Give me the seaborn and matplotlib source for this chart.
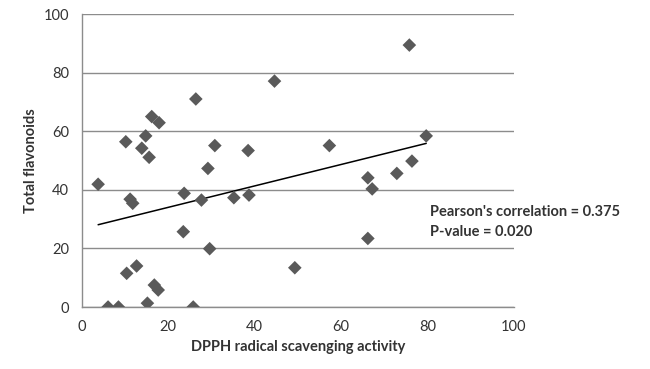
import matplotlib
matplotlib.use("Agg")
import matplotlib.pyplot as plt
import numpy as np
import pandas as pd
import seaborn as sns

# DPPH radical scavenging activity vs total flavonoids
dpph = [3.8, 26.4, 16.2, 17.9, 14.8, 10.2, 13.9, 15.6, 30.8, 38.5,
        29.2, 11.2, 11.8, 23.7, 27.7, 35.2, 38.7, 23.5, 29.6, 12.7,
        10.4, 16.8, 17.7, 15.2, 6.1, 8.5, 25.8, 75.8, 44.6, 57.3,
        79.7, 76.4, 66.2, 72.9, 67.2, 66.2, 49.3]
flavonoids = [41.9, 71.0, 65.0, 62.9, 58.4, 56.4, 54.2, 51.1, 55.1, 53.4,
              47.3, 36.8, 35.4, 38.8, 36.5, 37.3, 38.2, 25.7, 19.9, 14.0,
              11.5, 7.5, 5.8, 1.3, 0.0, 0.0, 0.0, 89.4, 77.1, 55.1,
              58.4, 49.8, 44.1, 45.6, 40.3, 23.4, 13.4]
x_ticks = [0, 20, 40, 60, 80, 100]
y_ticks = [0, 20, 40, 60, 80, 100]
stats_text = "Pearson's correlation = 0.375\nP-value = 0.020"

df = pd.DataFrame({"dpph": dpph, "flav": flavonoids})

sns.set_style("white")
plt.rcParams["font.family"] = ["Lato", "DejaVu Sans"]

fig = plt.figure(figsize=(6.5, 3.69), dpi=100)
ax = fig.add_axes([0.1257, 0.168, 0.665, 0.794])

sns.scatterplot(data=df, x="dpph", y="flav", marker="D", s=48,
                color="#5a5a5a", edgecolor="none", ax=ax, zorder=3)

# linear trend line over the data range
slope, intercept = np.polyfit(df["dpph"], df["flav"], 1)
xs = np.array([df["dpph"].min(), df["dpph"].max()])
ax.plot(xs, slope * xs + intercept, color="black", lw=1.1, zorder=2)

ax.set_xlim(0, 100)
ax.set_ylim(0, 100)
ax.set_xticks(x_ticks)
ax.set_yticks(y_ticks)
ax.yaxis.grid(True, color="#8c8c8c", lw=1)
ax.set_axisbelow(True)
for side in ["top", "right"]:
    ax.spines[side].set_visible(False)
for side in ["left", "bottom"]:
    ax.spines[side].set_color("#8c8c8c")
    ax.spines[side].set_linewidth(1)
ax.tick_params(axis="both", direction="out", length=5, width=1,
               color="#8c8c8c", labelsize=10.5, labelcolor="#333333", pad=4)

ax.set_xlabel("DPPH radical scavenging activity", fontsize=10.5,
              fontweight="bold", color="#333333", labelpad=5)
ax.set_ylabel("Total flavonoids", fontsize=10.5, fontweight="bold",
              color="#333333", labelpad=4)

ax.text(0.806, 0.29, stats_text, transform=ax.transAxes, fontsize=10.5,
        fontweight="bold", color="#333333", va="center", ha="left",
        linespacing=1.6, clip_on=False)

fig.savefig("out.png", dpi=100)
plt.close(fig)
